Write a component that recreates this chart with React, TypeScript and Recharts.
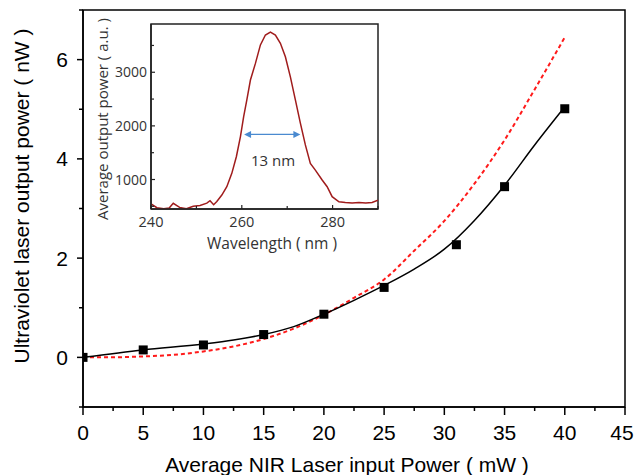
import React from "react";
import {
  ComposedChart,
  Line,
  XAxis,
  YAxis,
  Label,
  ReferenceLine,
  ReferenceDot,
  ReferenceArea,
} from "recharts";

// measured points (NIR input power in mW -> UV output power in nW)
const POWER = [0, 5, 10, 15, 20, 25, 31, 35, 40];
const UV_POWER = [0, 0.15, 0.25, 0.46, 0.87, 1.41, 2.27, 3.44, 5.01];

// black smooth fit through the measurements
const SMOOTH_X = [0, 5, 10, 12.5, 15, 17.5, 20, 22.5, 25, 27.5, 30, 32.5, 35, 37.5, 40];
const SMOOTH_Y = [0, 0.15, 0.27, 0.35, 0.46, 0.62, 0.87, 1.15, 1.45, 1.78, 2.18, 2.76, 3.47, 4.28, 5.05];

// red dashed cubic-like fit
const FIT_X = [0, 2.5, 5, 7.5, 10, 12.5, 15, 17.5, 20, 22.5, 25, 27.5, 30, 32.5, 35, 37.5, 40];
const FIT_Y = [0, 0.002, 0.02, 0.05, 0.12, 0.22, 0.37, 0.58, 0.86, 1.2, 1.57, 2.15, 2.75, 3.5, 4.38, 5.4, 6.45];

const MAIN_X_TICKS = [0, 2.5, 5, 7.5, 10, 12.5, 15, 17.5, 20, 22.5, 25, 27.5, 30, 32.5, 35, 37.5, 40, 42.5, 45];
const MAIN_Y_TICKS = [-1, 0, 1, 2, 3, 4, 5, 6, 7];

// inset spectrum
const WAVELENGTH = [
  240.1, 241.3, 242.8, 244.0, 244.9, 246.3, 247.8, 249.3, 250.8, 252.3, 253.0, 253.8, 254.5,
  255.6, 256.7, 257.8, 258.8, 259.7, 260.4, 261.1, 261.9, 263.0, 264.1, 265.2, 266.3, 267.4,
  268.5, 269.6, 270.7, 271.8, 272.9, 274.0, 275.1, 276.2, 277.7, 278.8, 279.9, 281.4, 282.8,
  284.3, 285.8, 287.3, 288.7, 290.0,
];
const INTENSITY = [
  540, 475, 455, 470, 556, 480, 455, 500, 515, 560, 605, 530, 590,
  710, 865, 1115, 1425, 1800, 2170, 2480, 2855, 3165, 3510, 3695, 3750, 3695,
  3540, 3290, 2915, 2485, 2050, 1645, 1300, 1175, 990, 865, 680, 585, 570,
  560, 570, 560, 570, 615,
];
const INSET_X_TICKS = [240, 250, 260, 270, 280, 290];
const INSET_Y_TICKS = [500, 1000, 1500, 2000, 2500, 3000, 3500];
const FWHM = [260.5, 272.9];
const FWHM_LEVEL = 1840;

const SANS = "'Liberation Sans', Arial, sans-serif";
const INSET_FONT = "'Open Sans', sans-serif";

const measured = POWER.map((p, i) => ({ x: p, y: UV_POWER[i] }));
const smooth = SMOOTH_X.map((p, i) => ({ x: p, y: SMOOTH_Y[i] }));
const fit = FIT_X.map((p, i) => ({ x: p, y: FIT_Y[i] }));
const spectrum = WAVELENGTH.map((w, i) => ({ x: w, y: INTENSITY[i] }));

function MainXTick(props: any) {
  const { x, y, payload } = props;
  const v = payload.value;
  const major = v % 5 === 0;
  return (
    <g>
      <line x1={x} y1={y} x2={x} y2={y + (major ? 8 : 4)} stroke="#000" strokeWidth={1.5} />
      {major && (
        <text
          x={v === 45 ? x - 3 : x}
          y={y + 33}
          textAnchor="middle"
          fontSize={21}
          fontFamily={SANS}
          fill="#000"
        >
          {v}
        </text>
      )}
    </g>
  );
}

function MainYTick(props: any) {
  const { x, y, payload } = props;
  const v = payload.value;
  const major = v % 2 === 0;
  return (
    <g>
      <line x1={x} y1={y} x2={x - (major ? 6 : 4)} y2={y} stroke="#000" strokeWidth={1.5} />
      {major && (
        <text x={x - 15} y={y + 7.5} textAnchor="end" fontSize={21} fontFamily={SANS} fill="#000">
          {v}
        </text>
      )}
    </g>
  );
}

function InsetXTick(props: any) {
  const { x, y, payload } = props;
  const v = payload.value;
  const major = v % 20 === 0;
  return (
    <g>
      <line x1={x} y1={y} x2={x} y2={y - (major ? 4 : 3)} stroke="#222" strokeWidth={1.2} />
      {major && (
        <text x={x} y={y + 18} textAnchor="middle" fontSize={14.5} fontFamily={INSET_FONT} fill="#333">
          {v}
        </text>
      )}
    </g>
  );
}

function InsetYTick(props: any) {
  const { x, y, payload } = props;
  const v = payload.value;
  const major = v % 1000 === 0;
  return (
    <g>
      <line x1={x} y1={y} x2={x + (major ? 4 : 3)} y2={y} stroke="#222" strokeWidth={1.2} />
      {major && (
        <text x={x - 4} y={y + 5} textAnchor="end" fontSize={14} fontFamily={INSET_FONT} fill="#333">
          {v}
        </text>
      )}
    </g>
  );
}

function SquareDot(props: any) {
  const { cx, cy } = props;
  if (cx == null || cy == null) return null;
  return <rect x={cx - 4.5} y={cy - 4.5} width={9} height={9} fill="#000" />;
}

function ArrowHead(dir: number) {
  return (props: any) => {
    const { cx, cy } = props;
    return (
      <polygon
        points={`${cx},${cy} ${cx + dir * 7},${cy - 3.5} ${cx + dir * 7},${cy + 3.5}`}
        fill="#4a8ad0"
      />
    );
  };
}

function InsetChart() {
  return (
    <ComposedChart
      width={300}
      height={246}
      margin={{ top: 10, right: 12, left: 0, bottom: 0 }}
    >
      <XAxis
        dataKey="x"
        type="number"
        domain={[240, 290]}
        ticks={INSET_X_TICKS}
        interval={0}
        height={51}
        tickSize={0}
        tickMargin={0}
        tickLine={false}
        allowDataOverflow
        axisLine={{ stroke: "#222", strokeWidth: 1.5 }}
        tick={<InsetXTick />}
      >
        <Label
          content={() => (
            <text x={182} y={235} textAnchor="middle" fontSize={15.5} fontFamily={INSET_FONT} fill="#333">
              Wavelength ( nm )
            </text>
          )}
        />
      </XAxis>
      <YAxis
        type="number"
        domain={[450, 3900]}
        ticks={INSET_Y_TICKS}
        interval={0}
        width={61}
        tickSize={0}
        tickMargin={0}
        tickLine={false}
        allowDataOverflow
        axisLine={{ stroke: "#222", strokeWidth: 1.5 }}
        tick={<InsetYTick />}
      >
        <Label
          content={() => (
            <text
              x={0}
              y={0}
              transform="translate(18 105) rotate(-90)"
              textAnchor="middle"
              fontSize={15}
              fontFamily={INSET_FONT}
              fill="#333"
            >
              Average output power ( a.u. )
            </text>
          )}
        />
      </YAxis>
      <ReferenceArea
        x1={240}
        x2={290}
        y1={450}
        y2={3900}
        fill="none"
        stroke="#222"
        strokeWidth={1.5}
        ifOverflow="visible"
      />
      <Line
        data={spectrum}
        dataKey="y"
        type="linear"
        stroke="#a01c1c"
        strokeWidth={1.5}
        dot={false}
        isAnimationActive={false}
      />
      <ReferenceLine
        segment={[
          { x: FWHM[0] + 1, y: FWHM_LEVEL },
          { x: FWHM[1] - 1, y: FWHM_LEVEL },
        ]}
        stroke="#4a8ad0"
        strokeWidth={1.3}
      />
      <ReferenceDot x={FWHM[0]} y={FWHM_LEVEL} r={0} shape={ArrowHead(1)} />
      <ReferenceDot x={FWHM[1]} y={FWHM_LEVEL} r={0} shape={ArrowHead(-1)} />
      <ReferenceDot
        x={266.9}
        y={1345}
        r={0}
        shape={(p: any) => (
          <text x={p.cx} y={p.cy + 5} textAnchor="middle" fontSize={15} fontFamily={INSET_FONT} fill="#333">
            13 nm
          </text>
        )}
      />
    </ComposedChart>
  );
}

export default function App() {
  return (
    <div style={{ position: "absolute", left: 0, top: 0, width: 634, height: 475, background: "#fff" }}>
      <ComposedChart width={634} height={475} margin={{ top: 10, right: 9, left: 0, bottom: 0 }}>
        <XAxis
          dataKey="x"
          type="number"
          domain={[0, 45]}
          ticks={MAIN_X_TICKS}
          interval={0}
          height={68}
          tickSize={0}
          tickMargin={0}
          tickLine={false}
          allowDataOverflow
          axisLine={{ stroke: "#000", strokeWidth: 1.5 }}
          tick={<MainXTick />}
        >
          <Label
            content={() => (
              <text x={347} y={472} textAnchor="middle" fontSize={21} fontFamily={SANS} fill="#000">
                Average NIR Laser input Power ( mW )
              </text>
            )}
          />
        </XAxis>
        <YAxis
          type="number"
          domain={[-1, 7]}
          ticks={MAIN_Y_TICKS}
          interval={0}
          width={83}
          tickSize={0}
          tickMargin={0}
          tickLine={false}
          allowDataOverflow
          axisLine={{ stroke: "#000", strokeWidth: 1.5 }}
          tick={<MainYTick />}
        >
          <Label
            content={() => (
              <text
                x={0}
                y={0}
                transform="translate(29 196) rotate(-90)"
                textAnchor="middle"
                fontSize={21}
                fontFamily={SANS}
                fill="#000"
              >
                Ultraviolet laser output power ( nW )
              </text>
            )}
          />
        </YAxis>
        <ReferenceArea
          x1={0}
          x2={45}
          y1={-1}
          y2={7}
          fill="none"
          stroke="#000"
          strokeWidth={1.5}
          ifOverflow="visible"
        />
        <Line
          data={fit}
          dataKey="y"
          type="monotone"
          stroke="#ff1a1a"
          strokeWidth={2}
          strokeDasharray="4 3"
          dot={false}
          isAnimationActive={false}
        />
        <Line
          data={smooth}
          dataKey="y"
          type="monotone"
          stroke="#000"
          strokeWidth={1.5}
          dot={false}
          isAnimationActive={false}
        />
        <Line
          data={measured}
          dataKey="y"
          stroke="none"
          dot={<SquareDot />}
          isAnimationActive={false}
        />
      </ComposedChart>
      <div style={{ position: "absolute", left: 90, top: 14 }}>
        <InsetChart />
      </div>
    </div>
  );
}
